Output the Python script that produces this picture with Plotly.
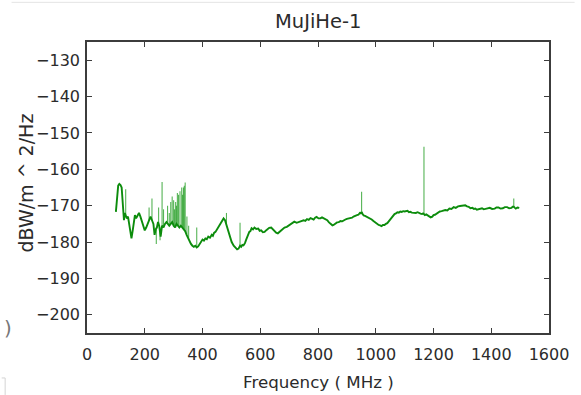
import plotly.graph_objects as go

# Smoothed spectrum level (dBW/m^2/Hz) versus frequency (MHz)
freq_mhz = [
    100, 104, 108, 112, 116, 120, 124, 128, 131, 134, 138, 142, 146, 150, 154, 158,
    162, 166, 170, 175, 180, 185, 190, 195, 200, 205, 210, 215, 220, 225, 230, 234,
    238, 242, 246, 250, 255, 260, 265, 270, 275, 280, 285, 290, 295, 300, 305, 310,
    315, 320, 325, 330, 335, 340, 345, 350, 355, 360, 365, 370, 375, 380, 385, 390,
    395, 400, 405, 410, 415, 420, 426, 432, 436, 440, 445, 450, 455, 460, 464, 467,
    470, 473, 478, 483, 490, 496, 501, 508, 514, 520, 525, 530, 534, 538, 542, 547,
    551, 555, 562, 566, 570, 575, 580, 586, 593, 598, 603, 609, 615, 620, 625, 631,
    638, 643, 648, 655, 661, 666, 672, 678, 684, 692, 700, 708, 718, 726, 735, 742,
    750, 756, 762, 768, 774, 780, 785, 790, 795, 802, 808, 814, 820, 826, 832, 838,
    845, 850, 854, 860, 866, 872, 878, 884, 889, 895, 900, 906, 912, 918, 923, 929,
    935, 940, 945, 948, 951, 954, 958, 963, 968, 974, 980, 986, 992, 998, 1005, 1010,
    1015, 1020, 1025, 1030, 1035, 1040, 1045, 1050, 1055, 1060, 1065, 1070, 1075, 1080,
    1085, 1090, 1095, 1100, 1105, 1110, 1115, 1120, 1125, 1132, 1139, 1145, 1150, 1155,
    1160, 1164, 1167, 1170, 1175, 1180, 1185, 1190, 1196, 1200, 1205, 1210, 1215, 1222,
    1228, 1234, 1241, 1248, 1255, 1262, 1270, 1277, 1285, 1292, 1298, 1304, 1310, 1316,
    1322, 1328, 1335, 1340, 1345, 1350, 1355, 1362, 1368, 1374, 1380, 1388, 1395, 1403,
    1412, 1418, 1425, 1432, 1440, 1447, 1455, 1462, 1470, 1474, 1478, 1482, 1485, 1491,
    1497,
]
level_dbw = [
    -171.7, -168.0, -164.5, -164.0, -164.3, -165.0, -170.0, -174.0, -172.0, -172.5, -173.5, -173.0, -175.0, -177.5, -179.0, -177.0,
    -174.0, -172.6, -173.5, -172.8, -172.0, -173.0, -174.5, -176.0, -176.8, -176.0, -175.0, -174.0, -173.0, -174.0, -175.0, -178.0,
    -176.5, -176.0, -174.5, -175.5, -178.5, -175.5, -176.0, -175.0, -174.5, -175.0, -175.5, -175.0, -174.5, -175.5, -176.0, -175.0,
    -175.5, -176.0, -175.5, -176.0, -176.5, -177.0, -178.0, -179.0, -179.5, -180.5, -181.0, -181.3, -181.0, -181.5, -181.2, -180.5,
    -180.0, -179.3, -179.6, -179.0, -179.2, -178.5, -178.8, -178.0, -178.3, -177.5, -177.2, -176.5, -176.0, -175.0, -174.8, -174.4,
    -173.9, -173.5, -174.0, -175.3, -177.0, -179.0, -180.0, -181.0, -181.5, -182.0, -181.8, -181.0, -181.3, -180.8, -180.9, -180.3,
    -179.4, -178.5, -177.2, -177.0, -176.2, -176.5, -176.0, -176.4, -176.3, -176.9, -176.8, -177.3, -177.2, -176.8, -176.5, -176.1,
    -176.0, -176.5, -176.8, -177.4, -177.6, -177.3, -176.8, -176.4, -176.0, -175.8, -175.3, -175.0, -174.4, -174.7, -174.5, -174.2,
    -174.0, -174.2, -173.7, -173.9, -173.4, -173.6, -173.8, -173.3, -173.1, -173.5, -173.5, -173.2, -173.4, -173.6, -174.0, -174.6,
    -175.0, -175.4, -175.3, -174.9, -174.6, -174.5, -174.2, -174.3, -174.0, -173.8, -173.6, -173.5, -173.2, -173.3, -173.0, -172.9,
    -172.6, -172.5, -172.0, -172.1, -171.7, -172.2, -172.7, -172.8, -173.0, -173.1, -173.4, -173.8, -174.2, -174.6, -175.0, -175.3,
    -175.4, -175.6, -175.3, -175.3, -175.0, -174.8, -174.3, -173.8, -173.2, -172.8, -172.3, -172.1, -171.8, -171.9, -171.6, -171.7,
    -171.5, -171.6, -171.5, -171.4, -171.8, -171.7, -171.9, -172.0, -172.0, -171.8, -172.1, -172.2, -172.3, -172.1,
    -172.3, -172.6, -172.4, -172.7, -172.8, -173.2, -173.0, -172.6, -172.5, -172.2, -171.8, -171.6, -171.5, -171.3,
    -171.2, -171.3, -170.8, -170.9, -170.4, -170.6, -170.2, -170.1, -170.0, -169.8, -169.9, -170.2, -170.3, -170.7,
    -170.6, -170.9, -170.8, -171.1, -171.0, -170.8, -170.7, -171.0, -170.9, -170.7, -170.6, -170.9, -170.8, -170.5,
    -170.5, -170.8, -170.7, -170.4, -170.4, -170.7, -170.6, -170.3, -170.3, -170.6,
    -170.8, -170.5, -170.6,
]

# Narrow interference lines: frequency, floor level and peak level
spike_freq = [134, 215, 225, 240, 248, 253, 260, 265, 279, 285, 290, 295, 300, 303, 307, 310, 313, 317, 322, 328,
              331, 334, 337, 340, 346, 352, 380, 483, 530, 951, 1167, 1478]
spike_floor = [-172.5, -174.0, -174.0, -176.0, -175.0, -176.0, -175.5, -176.0, -175.0, -175.5, -175.0, -174.5, -175.5,
               -175.5, -176.0, -175.0, -175.2, -175.8, -176.0, -175.8, -176.0, -176.3, -176.6, -177.0, -178.0, -179.0,
               -181.5, -175.3, -181.0, -171.7, -172.3, -170.3]
spike_peak = [-165.5, -170.5, -168.0, -180.5, -170.5, -179.5, -163.5, -171.0, -170.0, -172.0, -169.0, -167.5, -168.5,
              -171.0, -169.0, -170.0, -166.5, -167.0, -166.0, -165.0, -167.0, -165.0, -164.5, -163.6, -173.0, -175.5,
              -176.0, -172.0, -174.7, -166.2, -153.8, -168.0]

x_ticks = [0, 200, 400, 600, 800, 1000, 1200, 1400, 1600]
y_ticks = [-130, -140, -150, -160, -170, -180, -190, -200]

W, H = 581, 395
L, R, T, B = 86.5, 555.0, 41.7, 333.0

sx, sy = [], []
for f, lo, hi in zip(spike_freq, spike_floor, spike_peak):
    sx += [f, f, None]
    sy += [lo, hi, None]

fig = go.Figure()
fig.add_trace(go.Scatter(
    x=sx, y=sy, mode="lines", connectgaps=False,
    line=dict(color="rgba(30,155,30,0.75)", width=1.1),
    hoverinfo="skip", showlegend=False,
))
fig.add_trace(go.Scatter(
    x=freq_mhz, y=level_dbw, mode="lines",
    line=dict(color="#0c8c0c", width=1.9),
    showlegend=False,
))

text_col = "#2b2b2b"
axis_common = dict(
    showgrid=False, zeroline=False,
    showline=True, linecolor="#3c3c3c", linewidth=1.6, mirror="ticks",
    ticks="inside", ticklen=5, tickwidth=1.2, tickcolor="#3c3c3c",
    tickfont=dict(family="DejaVu Sans", size=16, color=text_col),
)
fig.update_xaxes(range=[0, 1600], tickvals=x_ticks, ticklabelstandoff=6, **axis_common)
fig.update_yaxes(range=[-205, -125], tickvals=y_ticks, ticklabelstandoff=2, **axis_common)

pw, ph = R - L, B - T


def px(x):
    return (x - L) / pw


def py(y):
    return (B - y) / ph


fig.update_layout(
    width=W, height=H,
    margin=dict(l=L, r=W - R, t=T, b=H - B, pad=0),
    paper_bgcolor="white", plot_bgcolor="white",
    font=dict(family="DejaVu Sans", color=text_col),
    annotations=[
        dict(text="MuJiHe-1", x=0.5, y=py(21), xref="paper", yref="paper",
             showarrow=False, xanchor="center", yanchor="middle",
             font=dict(size=19.5, color=text_col)),
        dict(text="Frequency ( MHz )", x=px(321.5), y=py(382), xref="paper", yref="paper",
             showarrow=False, xanchor="center", yanchor="middle",
             font=dict(size=16.7, color=text_col)),
        dict(text="dBW/m ^ 2/Hz", x=px(25), y=py(183), xref="paper", yref="paper",
             showarrow=False, xanchor="center", yanchor="middle", textangle=-90,
             font=dict(size=19, color=text_col)),
        dict(text=")", x=px(0), y=py(328), xref="paper", yref="paper",
             showarrow=False, xanchor="left", yanchor="middle",
             font=dict(size=20, color="#777777")),
    ],
    shapes=[
        dict(type="line", xref="paper", yref="paper", x0=px(10), x1=px(581), y0=py(2), y1=py(2),
             line=dict(color="#e4e4e4", width=1)),
        dict(type="line", xref="paper", yref="paper", x0=px(3.5), x1=px(3.5), y0=py(378), y1=py(395),
             line=dict(color="#d4d4d4", width=1)),
        dict(type="line", xref="paper", yref="paper", x0=px(0), x1=px(3.5), y0=py(378), y1=py(378),
             line=dict(color="#d4d4d4", width=1)),
    ],
)

fig.write_html("out.html")
